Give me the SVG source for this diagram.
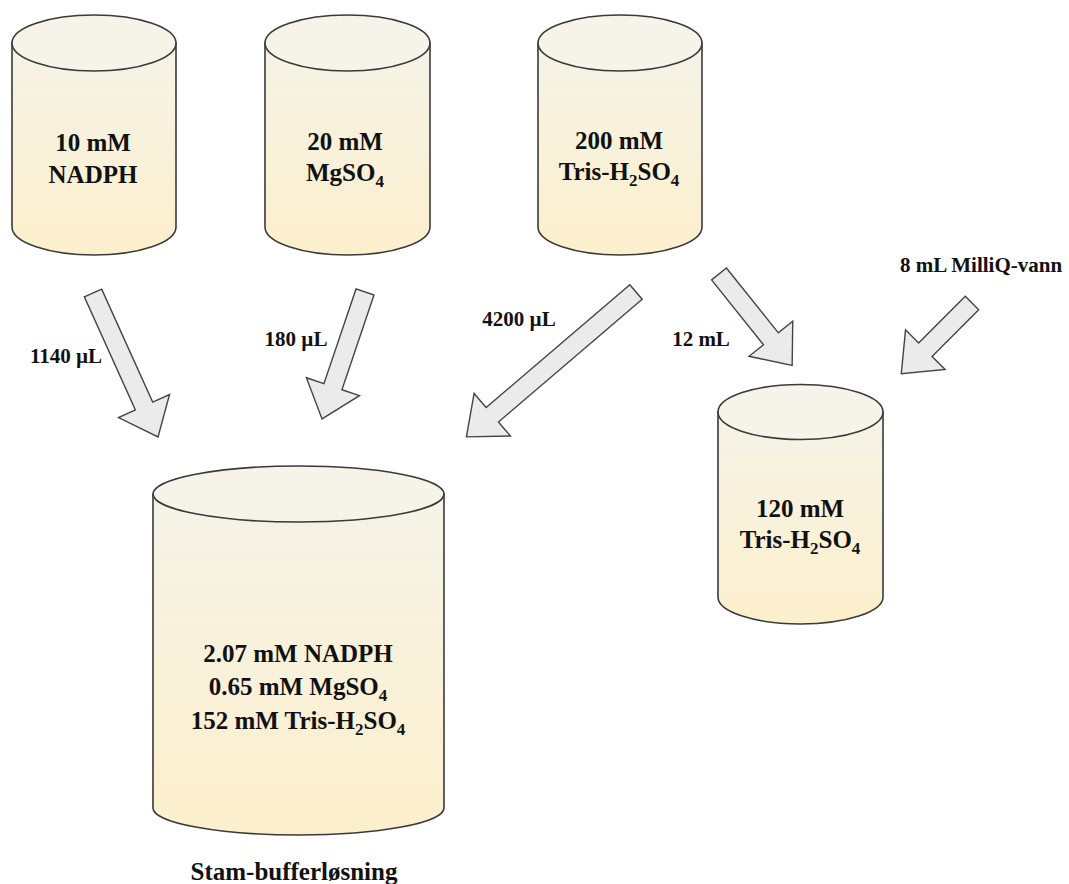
<svg xmlns="http://www.w3.org/2000/svg" width="1069" height="884" viewBox="0 0 1069 884">
<style>
.body{fill:url(#cyl);stroke:#3a3a3a;stroke-width:1.6}
.top{fill:#f6f4e9;stroke:#3a3a3a;stroke-width:1.6}
.arrow{fill:#ebebeb;stroke:#444;stroke-width:1.4;stroke-linejoin:miter}
text{font-family:"Liberation Serif","Times New Roman",serif;font-weight:bold;fill:#111;text-anchor:middle}
.big{font-size:25px}
.lbl{font-size:21px}
</style>
<defs>
<linearGradient id="cyl" x1="0" y1="0" x2="0" y2="1">
<stop offset="0" stop-color="#f5f3e8"/>
<stop offset="1" stop-color="#fcefcc"/>
</linearGradient>
</defs>
<rect width="1069" height="884" fill="#fff"/>

<g id="connectors">
<polygon class="arrow" transform="translate(93,293) rotate(65.7)" points="0,-9.5 124,-9.5 124,-28 158,0 124,28 124,9.5 0,9.5"/>
<polygon class="arrow" transform="translate(365,292) rotate(108.7)" points="0,-9.5 100,-9.5 100,-28 134,0 100,28 100,9.5 0,9.5"/>
<polygon class="arrow" transform="translate(636,292) rotate(139.5)" points="0,-9.5 189,-9.5 189,-28 223,0 189,28 189,9.5 0,9.5"/>
<polygon class="arrow" transform="translate(719,274) rotate(51.3)" points="0,-9.5 83,-9.5 83,-28 117,0 83,28 83,9.5 0,9.5"/>
<polygon class="arrow" transform="translate(972,303) rotate(135)" points="0,-9.5 66,-9.5 66,-28 100,0 66,28 66,9.5 0,9.5"/>
<text class="lbl" x="66" y="363">1140 µL</text>
<text class="lbl" x="296" y="346">180 µL</text>
<text class="lbl" x="519" y="326">4200 µL</text>
<text class="lbl" x="701" y="346">12 mL</text>
<text class="lbl" x="981" y="272">8 mL MilliQ-vann</text>
</g>

<g id="nadph">
<path class="body" d="M12,43 V227 A82,28 0 0 0 176,227 V43 Z"/>
<ellipse class="top" cx="94" cy="43" rx="82" ry="28"/>
<text class="big" x="93" y="151">10 mM</text>
<text class="big" x="93" y="183">NADPH</text>
</g>

<g id="mgso4">
<path class="body" d="M265,43 V227 A82.5,28 0 0 0 430,227 V43 Z"/>
<ellipse class="top" cx="347.5" cy="43" rx="82.5" ry="28"/>
<text class="big" x="345" y="150">20 mM</text>
<text class="big" x="345" y="181">MgSO<tspan dy="6" font-size="17">4</tspan></text>
</g>

<g id="tris200">
<path class="body" d="M538,43 V227 A82,28 0 0 0 702,227 V43 Z"/>
<ellipse class="top" cx="620" cy="43" rx="82" ry="28"/>
<text class="big" x="619" y="149">200 mM</text>
<text class="big" x="619" y="180">Tris-H<tspan dy="6" font-size="17">2</tspan><tspan dy="-6">SO</tspan><tspan dy="6" font-size="17">4</tspan></text>
</g>

<g id="tris120">
<path class="body" d="M718,412 V597 A82.5,27 0 0 0 883,597 V412 Z"/>
<ellipse class="top" cx="800.5" cy="412" rx="82.5" ry="27.5"/>
<text class="big" x="800" y="517">120 mM</text>
<text class="big" x="800" y="548">Tris-H<tspan dy="6" font-size="17">2</tspan><tspan dy="-6">SO</tspan><tspan dy="6" font-size="17">4</tspan></text>
</g>

<g id="stam">
<path class="body" d="M153,494 V808 A145.5,27 0 0 0 444,808 V494 Z"/>
<ellipse class="top" cx="298.5" cy="494" rx="145.5" ry="28"/>
<text class="big" x="298" y="662">2.07 mM NADPH</text>
<text class="big" x="298" y="695">0.65 mM MgSO<tspan dy="6" font-size="17">4</tspan></text>
<text class="big" x="298" y="729">152 mM Tris-H<tspan dy="6" font-size="17">2</tspan><tspan dy="-6">SO</tspan><tspan dy="6" font-size="17">4</tspan></text>
<text class="big" x="294" y="880">Stam-bufferløsning</text>
</g>
</svg>
